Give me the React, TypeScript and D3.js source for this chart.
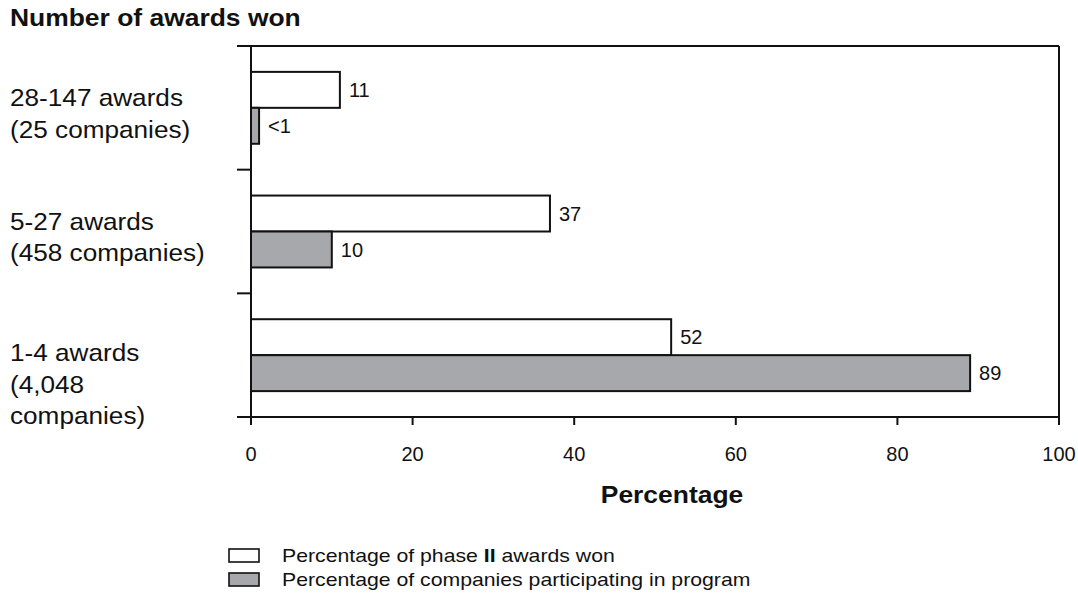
import * as d3 from "d3";

const categories = [
  ["28-147 awards", "(25 companies)"],
  ["5-27 awards", "(458 companies)"],
  ["1-4 awards", "(4,048", "companies)"],
];
const awardsWon = [11, 37, 52];
const companiesPct = [1, 10, 89];
const companiesLabels = ["<1", "10", "89"];
const xTicks = [0, 20, 40, 60, 80, 100];
const seriesNames = ["Percentage of phase II awards won", "Percentage of companies participating in program"];

const FONT = "'Liberation Sans', Arial, Helvetica, sans-serif";
const GRAY = "#a7a8ab";
const INK = "#111";

// the reference type is a bit wider than Arial, so stretch it horizontally
function Stretched({ x, y, sx, children, ...rest }: any) {
  return (
    <text transform={`translate(${x},${y}) scale(${sx},1)`} fill={INK} {...rest}>
      {children}
    </text>
  );
}

export default function App() {
  const width = 1078;
  const height = 604;
  const margin = { top: 46, right: 19, bottom: 187, left: 251 };

  const x = d3.scaleLinear().domain([0, 100]).range([margin.left, width - margin.right]);
  const y = d3
    .scaleBand<number>()
    .domain(d3.range(categories.length))
    .range([margin.top, height - margin.bottom])
    .padding(0);
  const sub = d3
    .scaleBand<number>()
    .domain([0, 1])
    .range([0, y.bandwidth()])
    .paddingInner(0)
    .paddingOuter(0.72);

  const x0 = x(0);
  const yTop = margin.top;
  const yBot = height - margin.bottom;
  const boundaries = d3.range(1, categories.length).map((i) => y(i)!);

  const series = [
    { values: awardsWon, labels: awardsWon.map(String), fill: "#ffffff" },
    { values: companiesPct, labels: companiesLabels, fill: GRAY },
  ];

  return (
    <svg
      width={width}
      height={height}
      style={{ position: "absolute", left: 0, top: 0, background: "#fff" }}
      fontFamily={FONT}
    >
      {/* title */}
      <Stretched x={10} y={26} sx={1.15} fontSize={23} fontWeight="bold">
        Number of awards won
      </Stretched>

      {/* bars */}
      {series.map((s, si) =>
        s.values.map((v, ci) => {
          const by = y(ci)! + sub(si)!;
          const bh = sub.bandwidth();
          return (
            <g key={`${si}-${ci}`}>
              <rect
                x={x0}
                y={by}
                width={x(v) - x0}
                height={bh}
                fill={s.fill}
                stroke={INK}
                strokeWidth={2}
              />
              <text x={x(v) + 9} y={by + bh / 2} dy="0.36em" fontSize={20} fill={INK}>
                {s.labels[ci]}
              </text>
            </g>
          );
        })
      )}

      {/* frame */}
      <line x1={x0 - 14} x2={x(100)} y1={yTop} y2={yTop} stroke={INK} strokeWidth={2} />
      <line x1={x0 - 14} x2={x(100)} y1={yBot} y2={yBot} stroke={INK} strokeWidth={2} />
      <line x1={x0} x2={x0} y1={yTop} y2={yBot + 8} stroke={INK} strokeWidth={2} />
      <line x1={x(100)} x2={x(100)} y1={yTop} y2={yBot + 8} stroke={INK} strokeWidth={2} />
      {boundaries.map((b, i) => (
        <line key={i} x1={x0 - 14} x2={x0} y1={b} y2={b} stroke={INK} strokeWidth={2} />
      ))}

      {/* x ticks */}
      {xTicks.map((t) => (
        <g key={t}>
          <line x1={x(t)} x2={x(t)} y1={yBot} y2={yBot + 8} stroke={INK} strokeWidth={2} />
          <text x={x(t)} y={461} textAnchor="middle" fontSize={20} fill={INK}>
            {t}
          </text>
        </g>
      ))}
      <Stretched x={672} y={503} sx={1.15} textAnchor="middle" fontSize={23} fontWeight="bold">
        Percentage
      </Stretched>

      {/* category labels */}
      {categories.map((lines, ci) =>
        lines.map((l, li) => (
          <Stretched
            key={`${ci}-${li}`}
            x={10}
            y={y(ci)! + 60 + (lines.length - 2) * 8 + li * 31.5}
            sx={1.09}
            fontSize={24}
          >
            {l}
          </Stretched>
        ))
      )}

      {/* legend */}
      {seriesNames.map((name, i) => (
        <g key={i} transform={`translate(229, ${549 + i * 24})`}>
          <rect x={0} y={0} width={30} height={13} fill={series[i].fill} stroke={INK} strokeWidth={1.6} />
          <Stretched x={53} y={13} sx={1.18} fontSize={18}>
            {i === 0 ? (
              <>
                Percentage of phase <tspan fontWeight="bold">II</tspan> awards won
              </>
            ) : (
              name
            )}
          </Stretched>
        </g>
      ))}
    </svg>
  );
}
